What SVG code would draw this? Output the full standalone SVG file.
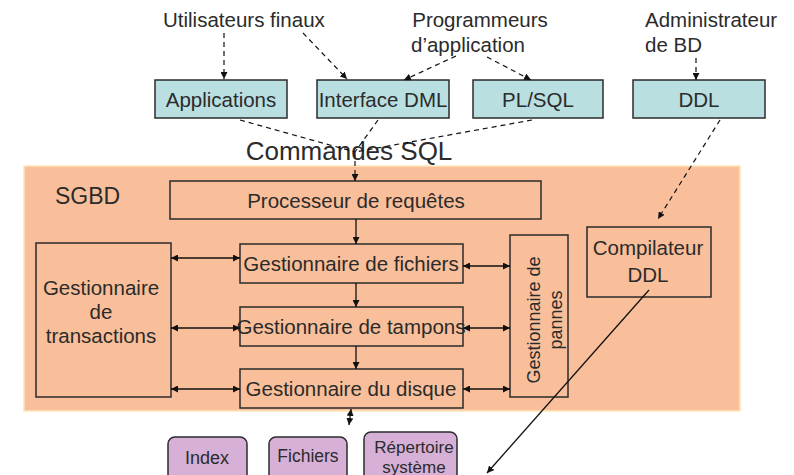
<svg xmlns="http://www.w3.org/2000/svg" width="794" height="475" viewBox="0 0 794 475">
<defs>
<marker id="ah" viewBox="0 0 10 10" refX="10" refY="5" markerWidth="7" markerHeight="7" orient="auto-start-reverse" markerUnits="userSpaceOnUse">
<path d="M0,0 L10,5 L0,10 z" fill="#111"/>
</marker>
<style>
text{font-family:"Liberation Sans",Arial,sans-serif;fill:#2b2b2b;}
.lbl{font-size:20.5px;}
.top{fill:#BADFE1;stroke:#2b2b2b;stroke-width:1.5;}
.inner{fill:#F9BF9A;stroke:#2b2b2b;stroke-width:1.5;}
.store{fill:#D6B0D6;stroke:#2b2b2b;stroke-width:1.5;}
.d{stroke:#111;stroke-width:1.2;fill:none;stroke-dasharray:5,4;}
.s{stroke:#111;stroke-width:1.3;fill:none;}
</style>
</defs>
<rect width="794" height="475" fill="#fff"/>
<g id="labels">
<text class="lbl" x="163" y="27">Utilisateurs finaux</text>
<text class="lbl" x="480" y="27" text-anchor="middle">Programmeurs</text>
<text class="lbl" x="468" y="52" text-anchor="middle">d’application</text>
<text class="lbl" x="645" y="27">Administrateur</text>
<text class="lbl" x="645" y="52">de BD</text>
<text x="349" y="160" font-size="26" text-anchor="middle">Commandes SQL</text>
</g>
<g id="sgbd">
<rect x="24" y="166" width="716" height="245" fill="#F9BF9A" stroke="#FDE6B8" stroke-width="1.5"/>
<text x="55" y="204" font-size="23">SGBD</text>
</g>
<g id="applications"><rect class="top" x="155" y="80" width="132" height="38"/><text class="lbl" x="221" y="107" text-anchor="middle">Applications</text></g>
<g id="interface-dml"><rect class="top" x="317" y="80" width="132" height="38"/><text class="lbl" x="383" y="107" text-anchor="middle">Interface DML</text></g>
<g id="plsql"><rect class="top" x="473" y="80" width="130" height="38"/><text class="lbl" x="538" y="107" text-anchor="middle">PL/SQL</text></g>
<g id="ddl"><rect class="top" x="633" y="80" width="132" height="38"/><text class="lbl" x="699" y="107" text-anchor="middle">DDL</text></g>
<g id="processeur"><rect class="inner" x="170" y="181" width="371" height="38"/><text class="lbl" x="356" y="208" text-anchor="middle">Processeur de requêtes</text></g>
<g id="transactions"><rect class="inner" x="36" y="243" width="135" height="154"/>
<text class="lbl" x="101" y="295" text-anchor="middle">Gestionnaire</text>
<text class="lbl" x="101" y="319" text-anchor="middle">de</text>
<text class="lbl" x="101" y="343" text-anchor="middle">transactions</text></g>
<g id="fichiers"><rect class="inner" x="240" y="244" width="223" height="39"/><text class="lbl" x="351" y="271" text-anchor="middle">Gestionnaire de fichiers</text></g>
<g id="tampons"><rect class="inner" x="240" y="307" width="223" height="39"/><text class="lbl" x="351" y="334" text-anchor="middle">Gestionnaire de tampons</text></g>
<g id="disque"><rect class="inner" x="240" y="369" width="223" height="39"/><text class="lbl" x="351" y="396" text-anchor="middle">Gestionnaire du disque</text></g>
<g id="pannes"><rect class="inner" x="510" y="235" width="58" height="162"/>
<text font-size="18" transform="translate(540,320) rotate(-90)" text-anchor="middle">Gestionnaire de</text>
<text font-size="18" transform="translate(562,320) rotate(-90)" text-anchor="middle">pannes</text></g>
<g id="compilateur"><rect class="inner" x="587" y="227" width="124" height="70"/>
<text class="lbl" x="648" y="255" text-anchor="middle">Compilateur</text>
<text class="lbl" x="648" y="282" text-anchor="middle">DDL</text></g>
<g id="index"><rect class="store" x="168" y="437" width="79" height="50" rx="7"/><text font-size="18" x="207" y="464" text-anchor="middle">Index</text></g>
<g id="fichiers-store"><rect class="store" x="269" y="437" width="78" height="50" rx="7"/><text font-size="17.5" x="308" y="462" text-anchor="middle">Fichiers</text></g>
<g id="repertoire"><rect class="store" x="364" y="432" width="93" height="55" rx="7"/>
<text x="414" y="453" font-size="17" text-anchor="middle">Répertoire</text>
<text x="414" y="473" font-size="17" text-anchor="middle">système</text></g>
<g id="connectors">
<line class="d" x1="224" y1="33" x2="224" y2="79" marker-end="url(#ah)"/>
<line class="d" x1="303" y1="33" x2="347" y2="79" marker-end="url(#ah)"/>
<line class="d" x1="456" y1="56" x2="404" y2="80" marker-end="url(#ah)"/>
<line class="d" x1="487" y1="57" x2="531" y2="80" marker-end="url(#ah)"/>
<line class="d" x1="696" y1="58" x2="696" y2="80" marker-end="url(#ah)"/>
<line class="d" x1="240" y1="120" x2="355" y2="152"/>
<line class="d" x1="378" y1="120" x2="355" y2="152"/>
<line class="d" x1="532" y1="120" x2="355" y2="152"/>
<line class="d" x1="355" y1="152" x2="355" y2="181" marker-end="url(#ah)"/>
<line class="d" x1="720" y1="120" x2="658" y2="219" marker-end="url(#ah)"/>
<line class="s" x1="356" y1="219" x2="356" y2="244" marker-end="url(#ah)"/>
<line class="s" x1="356" y1="283" x2="356" y2="307" marker-end="url(#ah)"/>
<line class="s" x1="356" y1="346" x2="356" y2="369" marker-end="url(#ah)"/>
<line class="s" x1="171" y1="258" x2="240" y2="258" marker-start="url(#ah)" marker-end="url(#ah)"/>
<line class="s" x1="171" y1="328" x2="240" y2="328" marker-start="url(#ah)" marker-end="url(#ah)"/>
<line class="s" x1="171" y1="389" x2="240" y2="389" marker-start="url(#ah)" marker-end="url(#ah)"/>
<line class="s" x1="463" y1="266" x2="510" y2="266" marker-start="url(#ah)" marker-end="url(#ah)"/>
<line class="s" x1="463" y1="328" x2="510" y2="328" marker-start="url(#ah)" marker-end="url(#ah)"/>
<line class="s" x1="463" y1="389" x2="510" y2="389" marker-start="url(#ah)" marker-end="url(#ah)"/>
<line class="s" x1="351" y1="409" x2="349" y2="425" marker-start="url(#ah)" marker-end="url(#ah)"/>
<line class="s" x1="649" y1="290" x2="487" y2="473" marker-end="url(#ah)"/>
</g>
</svg>
